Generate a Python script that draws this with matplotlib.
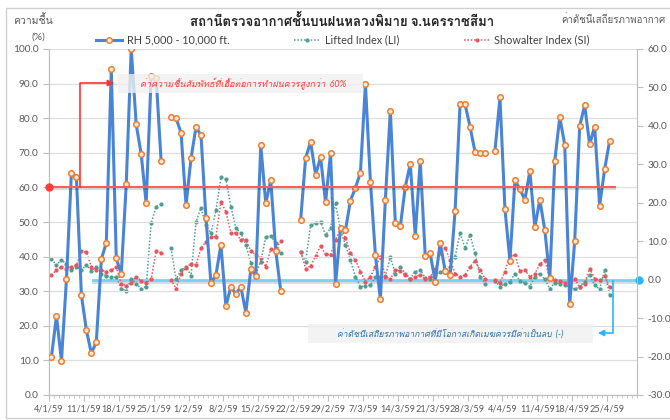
import numpy as np
import matplotlib
matplotlib.use('Agg')
import matplotlib.pyplot as plt
from matplotlib import font_manager as fm
from matplotlib.ft2font import FT2Font
from matplotlib.lines import Line2D
from matplotlib.patches import Rectangle, FancyArrowPatch
import matplotlib.patheffects as pe

# ---------------- data (daily, starting 4/1/59) ----------------
tick_labels = ['4/1/59', '11/1/59', '18/1/59', '25/1/59', '1/2/59', '8/2/59',
               '15/2/59', '22/2/59', '29/2/59', '7/3/59', '14/3/59', '21/3/59',
               '28/3/59', '4/4/59', '11/4/59', '18/4/59', '25/4/59']
axis_days = 118
N = None

rh = [11.1, 22.8, 9.9, 33.4, 64.3, 63.0, 28.9, 18.8, 12.0, 15.4,
      39.2, 44.0, 94.1, 39.5, 35.0, 60.9, 100.0, 78.2, 69.6, 55.4,
      92.2, 91.7, 67.6, N, 80.4, 80.0, 75.8, 54.9, 68.4, 77.4,
      75.1, 51.1, 32.3, 34.7, 43.4, 25.7, 31.3, 29.2, 31.3, 23.8,
      36.3, 34.5, 72.2, 55.4, 62.1, 41.7, 30.2, N, N, N,
      50.6, 68.5, 73.1, 63.7, 68.7, 55.7, 69.8, 32.0, 48.2, 47.7,
      56.2, 59.9, 64.3, 89.8, 61.7, 40.5, 27.7, 56.4, 82.2, 49.6,
      48.7, 60.2, 66.8, 46.0, 67.6, 40.3, 40.9, 32.8, 44.0, 35.9,
      34.6, 53.3, 84.2, 84.0, 77.5, 70.2, 69.8, 70.0, N, 70.6,
      86.0, 53.7, 38.8, 62.1, 59.5, 56.4, 64.7, 48.5, 56.4, 47.7,
      33.7, 67.7, 80.3, 72.3, 26.3, 44.5, 77.7, 83.7, 72.4, 77.6,
      54.7, 65.2, 73.4]

li = [5.3, 3.8, 5.1, 4.1, 2.5, 3.4, 2.5, 3.8, 2.3, 3.4,
      1.6, 1.0, 0.6, 0.6, -2.3, -2.9, 0.3, -1.2, -2.3, -1.8,
      14.7, 19.0, 19.7, N, 8.2, 0.1, 2.5, 3.4, 1.0, 15.1,
      18.6, 14.2, 12.1, 18.0, 26.6, 26.1, 19.0, 13.4, 12.1, 9.0,
      4.4, 1.6, 4.7, 11.2, 11.4, 9.5, 7.0, N, N, N,
      7.1, 4.7, 14.2, 14.7, 15.1, 11.6, 13.4, 19.9, 12.9, 9.0,
      5.0, 0.8, -1.8, -1.6, -1.4, 0.6, 0.8, 1.0, 5.8, 1.6,
      3.4, 1.6, 0.3, 2.1, 2.5, 0.5, 0.3, 1.2, 2.1, 2.5,
      3.4, 6.0, 12.1, 8.2, 11.6, 6.9, 0.8, -1.0, N, -0.3,
      -1.8, -1.1, -0.5, 1.6, -0.3, -0.8, -1.8, 0.8, 1.6, 0.1,
      -2.3, -0.8, -1.0, -1.4, -1.8, -2.5, -1.8, -0.5, 1.2, -1.4,
      -2.5, 2.5, -4.0]

si = [1.2, 2.5, 3.4, 2.9, 3.4, 3.8, 7.5, 7.1, 3.4, 2.5,
      2.5, 2.1, 2.5, 3.2, -1.0, -1.6, -0.8, 0.8, -0.3, -0.8,
      0.1, 7.5, 7.0, N, 0.0, -2.3, 1.6, 3.1, 4.2, 3.8,
      8.2, 9.9, 11.2, 11.2, 20.3, 17.7, 12.2, 12.1, 10.3, 10.3,
      7.5, 6.4, 5.6, 3.4, 7.9, 7.9, 10.0, N, N, N,
      7.2, 2.9, 3.6, 6.2, 8.8, 6.6, 6.4, 10.3, 13.4, 10.8,
      6.9, 5.1, 2.1, -0.5, 0.8, 3.4, 5.8, 0.8, 0.1, 2.5,
      2.3, 1.2, 0.1, 0.8, 1.2, 0.1, 0.8, 2.7, 6.9, 8.2,
      5.1, 1.6, 0.8, 1.2, 3.4, 4.9, 2.5, 0.3, N, -0.1,
      -0.8, 2.1, 6.2, 6.4, 2.3, 2.5, 0.8, 1.6, 4.1, 5.1,
      0.3, -0.1, -0.3, -0.8, -0.8, 0.1, -1.8, -1.0, 2.9, 0.3,
      -0.1, 1.0, -2.0]

rh_threshold = 60
li_threshold = 0


# ---------------- fonts ----------------
def find_thai_font():
    # pick any installed family that actually has Thai glyphs
    for f in fm.fontManager.ttflist:
        try:
            if 0x0E01 in FT2Font(f.fname).get_charmap():
                return f.name
        except Exception:
            pass
    return 'DejaVu Sans'


thai = find_thai_font()
plt.rcParams['font.family'] = ['Lato', thai, 'DejaVu Sans']

W, H = 670, 420


def fx(x):
    return x / W


def fy(y):
    return 1 - y / H


to_nan = lambda v: np.array([np.nan if a is None else a for a in v], dtype=float)
x = np.arange(len(rh)) + 0.5

blue = '#4a84d6'
orange = '#ed7d31'
teal = '#4f9e90'
red = '#e8555e'
grey_txt = '#595959'

fig = plt.figure(figsize=(6.7, 4.2), dpi=100)
ax = fig.add_axes([fx(49), fy(395), fx(637) - fx(49), fy(49) - fy(395)])
ax2 = ax.twinx()
ax.set_zorder(ax2.get_zorder() + 1)
ax.patch.set_visible(False)

# secondary: stability indices
ax2.plot(x, to_nan(li), color=teal, ls=(0, (1, 1.2)), lw=1.1, marker='o', ms=2, zorder=3)
ax2.plot(x, to_nan(si), color=red, ls=(0, (1, 1.2)), lw=1.1, marker='o', ms=2, zorder=3)
ax2.axhline(li_threshold, xmin=(93 - 49) / 588, xmax=1, color='#78d2f3', lw=2.0, zorder=2,
            path_effects=[pe.SimpleLineShadow(offset=(0, -1.5), alpha=0.15), pe.Normal()])
ax2.plot([axis_days + 0.4], [li_threshold], 'o', color='#29b6f6', ms=5, clip_on=False, zorder=5)
ax2.set_ylim(-30, 60)
ax2.set_yticks(np.arange(-30, 61, 10))
ax2.set_yticklabels([f'{v:.1f}' for v in np.arange(-30, 61, 10)])

# primary: relative humidity
ax.plot(x, to_nan(rh), color=blue, lw=2.2, marker='o', ms=4.0, mfc='#fde9d9',
        mec=orange, mew=1.1, zorder=4)
ax.axhline(rh_threshold, xmin=0, xmax=(615 - 49) / 588, color='#ff5a5a', lw=1.4, zorder=5,
           path_effects=[pe.SimpleLineShadow(offset=(0, -1.5), alpha=0.15), pe.Normal()])
ax.plot([0], [rh_threshold], 'o', color='#ff3b3b', ms=5, clip_on=False, zorder=6)
ax.set_ylim(0, 100)
ax.set_yticks(np.arange(0, 101, 10))
ax.set_yticklabels([f'{v:.1f}' for v in np.arange(0, 101, 10)])
ax.set_xlim(0, axis_days)
ax.set_xticks(np.arange(0, 7 * len(tick_labels), 7))
ax.set_xticklabels(tick_labels)
ax.set_xticks(np.arange(0, axis_days + 1), minor=True)
ax.grid(axis='y', color='#dedede', lw=0.9)
ax.set_axisbelow(True)

for a in (ax, ax2):
    for s in a.spines.values():
        s.set_color('#bfbfbf')
    a.spines['top'].set_visible(False)
    a.tick_params(colors='#bfbfbf', labelcolor=grey_txt, labelsize=7.3)
ax.tick_params(axis='x', labelsize=6.6, length=4, pad=3)
ax.tick_params(axis='x', which='minor', length=2.5, color='#bfbfbf')
ax.tick_params(axis='y', length=4)
ax2.tick_params(axis='y', length=4)

# titles and axis captions
fig.text(fx(342), fy(20), 'สถานีตรวจอากาศชั้นบนฝนหลวงพิมาย จ.นครราชสีมา', ha='center',
         va='center', fontsize=9.5, fontweight='bold', color='#262626')
fig.text(fx(33), fy(20), 'ความชื้น', ha='center', va='center', fontsize=7.5, color=grey_txt)
fig.text(fx(38), fy(37), '(%)', ha='center', va='center', fontsize=7.5, color=grey_txt)
fig.text(fx(666), fy(20), 'ค่าดัชนีเสถียรภาพอากาศ', ha='right', va='center', fontsize=7.0,
         color=grey_txt)

# legend
handles = [Line2D([], [], color=blue, lw=2.2, marker='o', ms=4.0, mfc='#fde9d9', mec=orange),
           Line2D([], [], color=teal, ls=(0, (1, 1.2)), lw=1.1, marker='o', ms=2),
           Line2D([], [], color=red, ls=(0, (1, 1.2)), lw=1.1, marker='o', ms=2)]
fig.legend(handles, ['RH 5,000 - 10,000 ft.', 'Lifted Index (LI)', 'Showalter Index (SI)'],
           loc='center', bbox_to_anchor=(fx(343), fy(40)), ncol=3, frameon=False,
           fontsize=7.8, handlelength=2.4, handletextpad=0.4, columnspacing=6.0,
           labelcolor='#404040')

# annotation: humidity threshold
fig.add_artist(Rectangle((fx(118), fy(93)), fx(363) - fx(118), fy(74) - fy(93),
                         transform=fig.transFigure, fc='#f0f0f0', ec='none', alpha=0.8, zorder=3))
fig.text(fx(140), fy(83.5), 'ค่าความชื้นสัมพัทธ์ที่เอื้อต่อการทำฝนควรสูงกว่า  60%', ha='left',
         va='center', fontsize=6.5, style='italic', color='#ff3b3b', zorder=4)
fig.add_artist(Line2D([fx(80), fx(80), fx(110)], [fy(187), fy(83), fy(83)],
                      transform=fig.transFigure, color='#ff3333', lw=1.2, zorder=4))
fig.add_artist(FancyArrowPatch((fx(106), fy(83)), (fx(117), fy(83)),
                               transform=fig.transFigure, arrowstyle='-|>',
                               mutation_scale=9, color='#ff3333', lw=1.2, zorder=4))

# annotation: stability threshold
fig.add_artist(Rectangle((fx(308), fy(343)), fx(593) - fx(308), fy(324) - fy(343),
                         transform=fig.transFigure, fc='#f0f0f0', ec='none', alpha=0.8, zorder=3))
fig.text(fx(337), fy(334), 'ค่าดัชนีเสถียรภาพอากาศที่มีโอกาสเกิดเมฆควรมีค่าเป็นลบ  (-)', ha='left',
         va='center', fontsize=6.2, style='italic', color='#2e75b6', zorder=4)
fig.add_artist(Line2D([fx(613), fx(613), fx(602)], [fy(281), fy(333), fy(333)],
                      transform=fig.transFigure, color='#29b6f6', lw=1.2, zorder=4))
fig.add_artist(FancyArrowPatch((fx(605), fy(333)), (fx(595), fy(333)),
                               transform=fig.transFigure, arrowstyle='-|>',
                               mutation_scale=9, color='#29b6f6', lw=1.2, zorder=4))

# chart area border
fig.add_artist(Rectangle((fx(6), fy(418)), fx(700), fy(8) - fy(418), transform=fig.transFigure,
                         fc='none', ec='#d0d0d0', lw=1.0, zorder=0))

fig.savefig('out.png', dpi=100)
